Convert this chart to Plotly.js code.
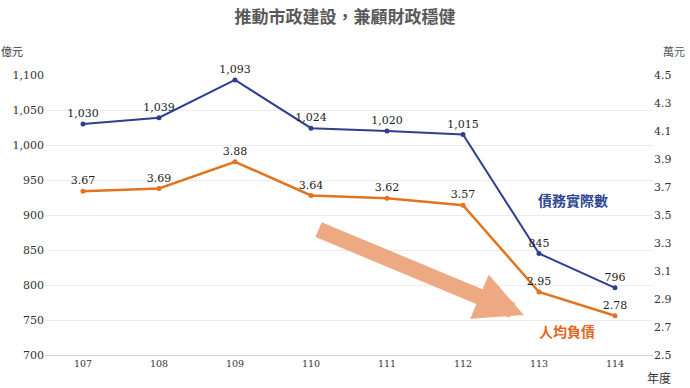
<!DOCTYPE html>
<html><head><meta charset="utf-8">
<script src="https://cdn.plot.ly/plotly-3.0.1.min.js"></script>
<style>html,body{margin:0;padding:0;background:#fff}</style>
</head><body><div id="chart" style="width:690px;height:388px"></div>
<script>
var years = ['107','108','109','110','111','112','113','114'];
var debt = [1030, 1039, 1093, 1024, 1020, 1015, 845, 796];
var perCapita = [3.67, 3.69, 3.88, 3.64, 3.62, 3.57, 2.95, 2.78];
var leftTicks = [700, 750, 800, 850, 900, 950, 1000, 1050, 1100];
var rightTicks = [2.5, 2.7, 2.9, 3.1, 3.3, 3.5, 3.7, 3.9, 4.1, 4.3, 4.5];

var serif = 'DejaVu Serif';
var cjk = 'Noto Sans CJK TC, Noto Sans CJK SC, sans-serif';

var traces = [
  {x: years, y: debt, type: 'scatter', mode: 'lines+markers+text', name: '債務實際數',
   line: {color: '#2E3F8E', width: 2}, marker: {color: '#2E3F8E', size: 5},
   texttemplate: '%{y:,}', textposition: 'top center',
   textfont: {family: serif, size: 11, color: '#222'}, cliponaxis: false, yaxis: 'y'},
  {x: years, y: perCapita, type: 'scatter', mode: 'lines+markers+text', name: '人均負債',
   line: {color: '#E2731F', width: 2.5}, marker: {color: '#E2731F', size: 5},
   texttemplate: '%{y:.2f}', textposition: 'top center',
   textfont: {family: serif, size: 11, color: '#222'}, cliponaxis: false, yaxis: 'y2'}
];

var layout = {
  width: 690, height: 388,
  margin: {l: 45, r: 37, t: 75, b: 33},
  paper_bgcolor: '#fff', plot_bgcolor: '#fff',
  showlegend: false,
  font: {family: serif},
  title: {text: '推動市政建設，兼顧財政穩健', x: 0.5, xanchor: 'center', y: 0.955, yanchor: 'middle',
          font: {family: cjk, size: 17, color: '#595959', weight: 'bold'}},
  xaxis: {type: 'category', showgrid: false, zeroline: false, showline: true,
          linecolor: '#d0d0d0', linewidth: 1, ticks: '',
          tickfont: {family: serif, size: 9.5, color: '#333'}, range: [-0.5, 7.5]},
  yaxis: {range: [700, 1100], tickvals: leftTicks, tickformat: ',', showgrid: true,
          gridcolor: '#ececec', zeroline: false, ticks: '', showline: false,
          tickfont: {family: serif, size: 11, color: '#333'}},
  yaxis2: {range: [2.5, 4.5], tickvals: rightTicks, tickformat: '.1f', overlaying: 'y', side: 'right',
           showgrid: false, zeroline: false, ticks: '', showline: false,
           tickfont: {family: serif, size: 11, color: '#333'}},
  annotations: [
    {text: '億元', xref: 'paper', yref: 'paper', x: -0.055, y: 1.085, xanchor: 'center', yanchor: 'middle',
     showarrow: false, font: {family: cjk, size: 11, color: '#333'}},
    {text: '萬元', xref: 'paper', yref: 'paper', x: 1.035, y: 1.085, xanchor: 'center', yanchor: 'middle',
     showarrow: false, font: {family: cjk, size: 11, color: '#555'}},
    {text: '年度', xref: 'paper', yref: 'paper', x: 1.01, y: -0.08, xanchor: 'center', yanchor: 'middle',
     showarrow: false, font: {family: cjk, size: 12, color: '#333'}},
    {text: '債務實際數', xref: 'x', yref: 'y', x: 6.45, y: 922, xanchor: 'center', yanchor: 'middle',
     showarrow: false, font: {family: cjk, size: 14, color: '#2E4594', weight: 'bold'}},
    {text: '人均負債', xref: 'x', yref: 'y', x: 6.37, y: 734, xanchor: 'center', yanchor: 'middle',
     showarrow: false, font: {family: cjk, size: 14, color: '#E2661A', weight: 'bold'}},
    {text: '', xref: 'x', yref: 'y', x: 5.8, y: 757, axref: 'x', ayref: 'y', ax: 3.08, ay: 880,
     showarrow: true, arrowhead: 2, arrowsize: 0.6, arrowwidth: 16, arrowcolor: '#EDAA82', standoff: 0}
  ]
};

Plotly.newPlot('chart', traces, layout, {displayModeBar: false, staticPlot: true});
</script>
</body></html>
